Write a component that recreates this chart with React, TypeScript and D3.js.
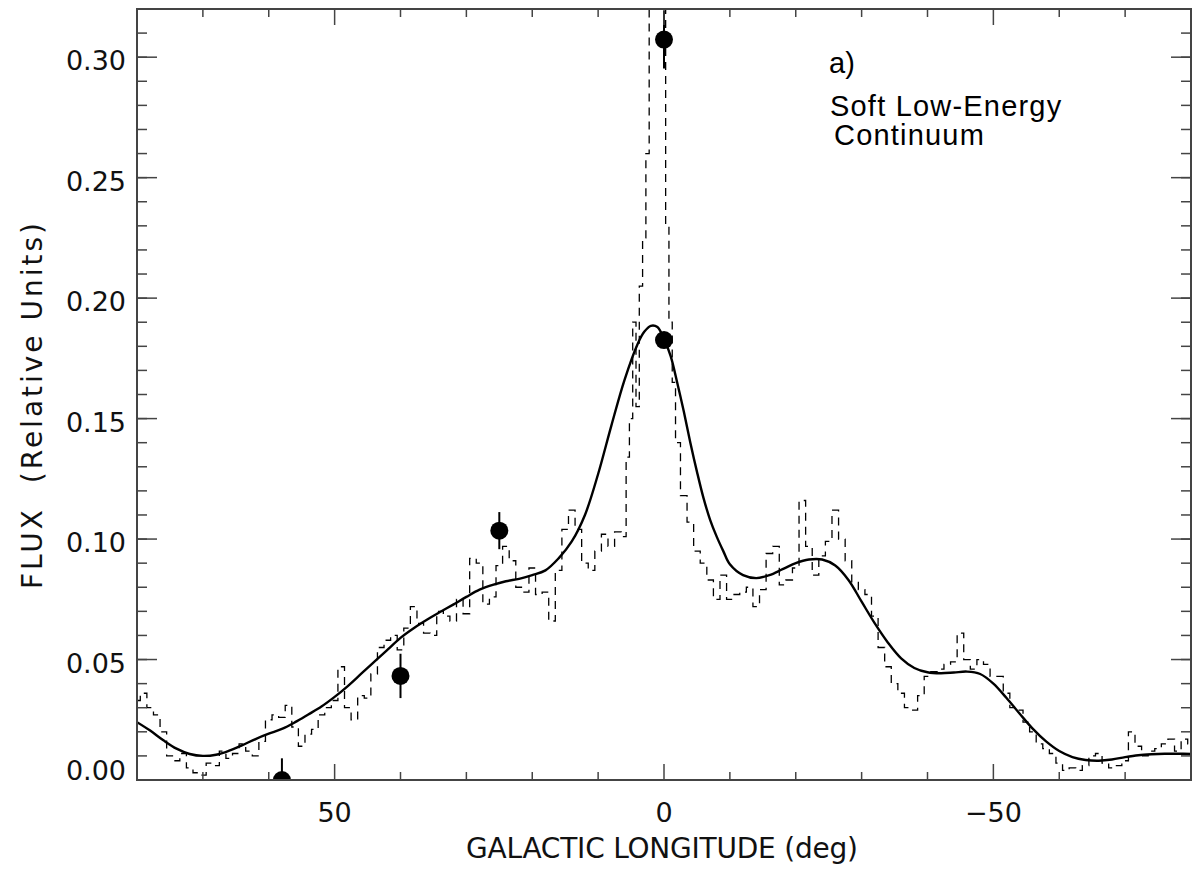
import React from "react";
import * as d3 from "d3";

// ---- data ----
const dashLon: number[] = [
  80, 79, 78, 77, 76, 75, 74, 73, 72, 71, 70, 69, 68, 67, 66, 65, 64, 63, 62, 61,
  60, 59, 58, 57, 56, 55, 54, 53, 52, 51, 50, 49, 48, 47, 46, 45, 44, 43, 42, 41,
  40, 39, 38, 37, 36, 35, 34, 33, 32, 31, 30, 29, 28, 27, 26, 25, 24, 23, 22, 21,
  20, 19, 18, 17, 16, 15, 14, 13, 12, 11, 10, 9, 8, 7, 6, 5.5, 5, 4.5, 4, 3.5,
  3, 2.5, 2, 1, 0, -0.5, -1, -1.5, -2, -3, -4, -5, -6, -7, -8, -9, -10,
  -11, -12, -13, -14, -15, -16, -17, -18, -19, -20, -21, -22, -23, -24, -25, -26, -27, -28, -29, -30,
  -31, -32, -33, -34, -35, -36, -37, -38, -39, -40, -41, -42, -43, -44, -45, -46, -47, -48, -49, -50,
  -51, -52, -53, -54, -55, -56, -57, -58, -59, -60, -61, -62, -63, -64, -65, -66, -67, -68, -69, -70,
  -71, -72, -73, -74, -75, -76, -77, -78, -79, -80,
];
const dashFlux: number[] = [
  0.033, 0.036, 0.030, 0.027, 0.020, 0.010, 0.008, 0.011, 0.005, 0.003, 0.002, 0.007, 0.006, 0.012, 0.009, 0.011, 0.015, 0.012, 0.010, 0.016,
  0.025, 0.027, 0.026, 0.031, 0.022, 0.014, 0.019, 0.021, 0.027, 0.030, 0.033, 0.047, 0.030, 0.025, 0.035, 0.034, 0.044, 0.055, 0.058, 0.060,
  0.054, 0.063, 0.072, 0.065, 0.061, 0.060, 0.070, 0.068, 0.066, 0.075, 0.069, 0.092, 0.090, 0.073, 0.076, 0.089, 0.097, 0.091, 0.080, 0.078,
  0.088, 0.077, 0.078, 0.066, 0.087, 0.104, 0.112, 0.104, 0.090, 0.087, 0.095, 0.102, 0.097, 0.103, 0.101, 0.134, 0.150, 0.190, 0.155, 0.205,
  0.225, 0.26, 0.38, 0.42, 0.36, 0.23, 0.19, 0.165, 0.14, 0.118, 0.107, 0.095, 0.090, 0.083, 0.075, 0.085, 0.075,
  0.077, 0.078, 0.080, 0.072, 0.079, 0.094, 0.097, 0.081, 0.083, 0.088, 0.116, 0.097, 0.085, 0.093, 0.099, 0.112, 0.100, 0.091, 0.082, 0.079,
  0.077, 0.068, 0.055, 0.047, 0.040, 0.036, 0.030, 0.029, 0.035, 0.043, 0.045, 0.046, 0.048, 0.049, 0.061, 0.050, 0.046, 0.050, 0.048, 0.043,
  0.043, 0.036, 0.030, 0.029, 0.024, 0.020, 0.015, 0.013, 0.011, 0.007, 0.004, 0.005, 0.004, 0.006, 0.010, 0.011, 0.007, 0.005, 0.006, 0.008,
  0.020, 0.014, 0.010, 0.012, 0.013, 0.015, 0.017, 0.012, 0.017, 0.015,
];

const smoothLon: number[] = [
  80, 78, 76, 74, 72, 70, 68, 66, 64, 62, 60, 58, 56, 54, 52, 50, 48, 46, 44, 42, 40, 38, 36, 34, 32, 30,
  28, 26, 24, 22, 20, 18, 16, 14, 12, 10, 8, 6, 4, 3, 2, 1, 0, -1, -2, -3, -4, -5, -6, -7, -8, -9, -10,
  -12, -14, -16, -18, -20, -22, -24, -26, -28, -30, -32, -34, -36, -38, -40, -42, -44, -46, -48, -50,
  -52, -54, -56, -58, -60, -62, -64, -66, -68, -70, -72, -74, -76, -78, -80,
];
const smoothFlux: number[] = [
  0.024, 0.0205, 0.0165, 0.013, 0.0108, 0.0100, 0.0105, 0.0122, 0.0145, 0.0170, 0.0192, 0.0212, 0.0240, 0.0272, 0.0305, 0.0345, 0.0390, 0.0440, 0.0490, 0.0540, 0.0590, 0.0630, 0.0665, 0.0697, 0.0728, 0.0760,
  0.0790, 0.0810, 0.0825, 0.0835, 0.0850, 0.0870, 0.0920, 0.0990, 0.1100, 0.1270, 0.1470, 0.1660, 0.1810, 0.1860, 0.1885, 0.1880, 0.1830, 0.1760, 0.1650, 0.1530, 0.1400, 0.1280, 0.1170, 0.1080, 0.1010, 0.0950, 0.0895,
  0.0850, 0.0838, 0.0850, 0.0875, 0.0900, 0.0915, 0.0915, 0.0890, 0.0830, 0.0740, 0.0650, 0.0570, 0.0505, 0.0465, 0.0447, 0.0443, 0.0446, 0.0450, 0.0440, 0.0400,
  0.0340, 0.0275, 0.0212, 0.0160, 0.0120, 0.0095, 0.0083, 0.0080, 0.0085, 0.0095, 0.0103, 0.0107, 0.0109, 0.0109, 0.0108,
];

const pointLon: number[] = [58, 40, 25, 0, 0];
const pointFlux: number[] = [0.0, 0.0432, 0.1035, 0.3073, 0.1826];
const pointErr: number[] = [0.009, 0.0092, 0.0077, 0.012, 0.003];

const yMajorTicks: number[] = [0, 0.05, 0.1, 0.15, 0.2, 0.25, 0.3];
const yTickLabels: string[] = ["0.00", "0.05", "0.10", "0.15", "0.20", "0.25", "0.30"];
const yMinorTicks: number[] = d3.range(0, 33).map((i) => i / 100);
const xMajorTicks: number[] = [50, 0, -50];
const xTickLabels: string[] = ["50", "0", "\u221250"];
const xMinorTicks: number[] = [70, 60, 40, 30, 20, 10, -10, -20, -30, -40, -60, -70];

const W = 1193;
const H = 875;
const left = 137, right = 1191, top = 9, bottom = 780;
const axisColor = "#444";
const tickFont = "'DejaVu Sans', sans-serif";
const annFont = "'Liberation Sans', Arial, sans-serif";

export default function App() {
  const x = d3.scaleLinear().domain([80, -80]).range([left, right]);
  const y = d3.scaleLinear().domain([0, 0.32]).range([bottom, top]);

  const dashData = dashLon.map((l, i) => [l, dashFlux[i]] as [number, number]);
  const smoothData = smoothLon.map((l, i) => [l, smoothFlux[i]] as [number, number]);

  const dashPath =
    d3.line<[number, number]>().x((d) => x(d[0])).y((d) => y(d[1])).curve(d3.curveStep)(dashData) || "";
  const smoothPath =
    d3.line<[number, number]>().x((d) => x(d[0])).y((d) => y(d[1])).curve(d3.curveCatmullRom.alpha(0.5))(smoothData) || "";

  const yMajLen = 20, yMinLen = 10, xMajLen = 16, xMinLen = 8;

  return (
    <svg width={W} height={H} style={{ position: "absolute", left: 0, top: 0, background: "#fff" }}>
      <defs>
        <clipPath id="plotclip">
          <rect x={left} y={top} width={right - left} height={bottom - top} />
        </clipPath>
      </defs>
      <rect x={0} y={0} width={W} height={H} fill="#fff" />

      <g clipPath="url(#plotclip)">
        <path d={dashPath} fill="none" stroke="#000" strokeWidth={1.3} strokeDasharray="8 6" />
        <path d={smoothPath} fill="none" stroke="#000" strokeWidth={2.4} />
        {pointLon.map((l, i) => (
          <g key={i}>
            <line x1={x(l)} x2={x(l)} y1={y(pointFlux[i] - pointErr[i])} y2={y(pointFlux[i] + pointErr[i])} stroke="#000" strokeWidth={2} />
            <circle cx={x(l)} cy={y(pointFlux[i])} r={9} fill="#000" />
          </g>
        ))}
      </g>

      {/* frame */}
      <rect x={left} y={top} width={right - left} height={bottom - top} fill="none" stroke={axisColor} strokeWidth={2} />

      {/* y ticks left & right */}
      {yMinorTicks.map((v, i) => (
        <g key={"ym" + i}>
          <line x1={left} x2={left + yMinLen} y1={y(v)} y2={y(v)} stroke={axisColor} strokeWidth={1.5} />
          <line x1={right} x2={right - yMinLen} y1={y(v)} y2={y(v)} stroke={axisColor} strokeWidth={1.5} />
        </g>
      ))}
      {yMajorTicks.map((v, i) => (
        <g key={"yM" + i}>
          <line x1={left} x2={left + yMajLen} y1={y(v)} y2={y(v)} stroke={axisColor} strokeWidth={1.5} />
          <line x1={right} x2={right - yMajLen} y1={y(v)} y2={y(v)} stroke={axisColor} strokeWidth={1.5} />
          <text
            x={left - 11}
            y={Math.min(y(v) + 3.5, bottom - 10)}
            dominantBaseline="central"
            textAnchor="end"
            fontFamily={tickFont}
            fontSize={27}
            fill="#111"
          >
            {yTickLabels[i]}
          </text>
        </g>
      ))}

      {/* x ticks bottom & top */}
      {xMinorTicks.map((v, i) => (
        <g key={"xm" + i}>
          <line x1={x(v)} x2={x(v)} y1={bottom} y2={bottom - xMinLen} stroke={axisColor} strokeWidth={1.5} />
          <line x1={x(v)} x2={x(v)} y1={top} y2={top + xMinLen} stroke={axisColor} strokeWidth={1.5} />
        </g>
      ))}
      {xMajorTicks.map((v, i) => (
        <g key={"xM" + i}>
          <line x1={x(v)} x2={x(v)} y1={bottom} y2={bottom - xMajLen} stroke={axisColor} strokeWidth={1.5} />
          <line x1={x(v)} x2={x(v)} y1={top} y2={top + xMajLen} stroke={axisColor} strokeWidth={1.5} />
          <text x={x(v)} y={bottom + 32} dominantBaseline="central" textAnchor="middle" fontFamily={tickFont} fontSize={27} fill="#111">
            {xTickLabels[i]}
          </text>
        </g>
      ))}

      {/* axis titles */}
      <text x={(left + right) / 2 - 2} y={858} textAnchor="middle" fontFamily={tickFont} fontSize={28} fill="#111" textLength={392} lengthAdjust="spacing">
        GALACTIC LONGITUDE (deg)
      </text>
      <text
        transform={`translate(42, 406) rotate(-90)`}
        textAnchor="middle"
        fontFamily={tickFont}
        fontSize={28}
        fill="#111"
        textLength={366}
        lengthAdjust="spacing"
        style={{ whiteSpace: "pre" }}
      >
        {"FLUX  (Relative Units)"}
      </text>

      {/* annotations */}
      <text x={829} y={73} fontFamily={annFont} fontSize={29} fill="#000">a)</text>
      <text x={830} y={116} fontFamily={annFont} fontSize={29} letterSpacing={1.2} fill="#000">Soft Low-Energy</text>
      <text x={834} y={145} fontFamily={annFont} fontSize={29} letterSpacing={1.2} fill="#000">Continuum</text>
    </svg>
  );
}
